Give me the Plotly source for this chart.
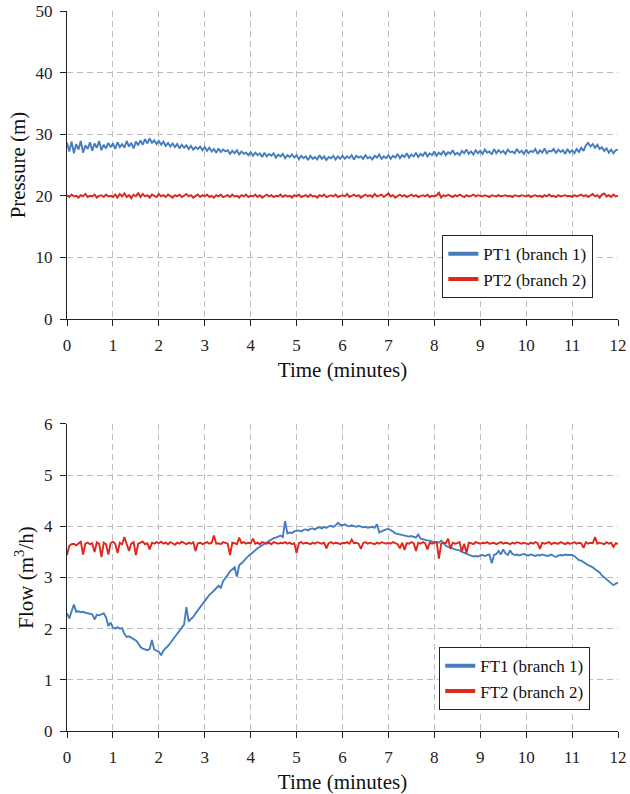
import numpy as np
import plotly.graph_objects as go
from plotly.subplots import make_subplots

# time grid (minutes), 0.05 min sampling
time_min = [round(i * 0.05, 2) for i in range(241)]

pt1 = [
    28.6, 27.2, 28.8, 26.9, 28.4, 27.5, 28.9, 27.0, 28.2, 27.6, 28.7, 27.3, 28.5, 27.8, 28.9, 27.4, 28.3, 27.7, 28.6, 27.9,
    28.5, 27.6, 28.7, 27.9, 28.4, 27.8, 28.9, 28.0, 28.6, 27.7, 28.8, 28.2, 29.0, 28.3, 29.2, 28.5, 29.3, 28.6, 29.0, 28.4,
    28.9, 28.3, 28.8, 28.1, 28.6, 28.0, 28.5, 27.9, 28.4, 27.7, 28.3, 27.8, 28.2, 27.6, 28.1, 27.5, 27.9, 27.6, 28.0, 27.4,
    27.9, 27.3, 27.8, 27.2, 27.6, 27.0, 27.7, 27.1, 27.5, 27.2, 27.4, 26.8, 27.3, 26.9, 27.4, 26.7, 27.2, 26.8, 27.0, 26.6,
    27.1, 26.5, 27.0, 26.6, 26.9, 26.3, 27.0, 26.4, 26.8, 26.5, 26.9, 26.2, 26.7, 26.4, 26.8, 26.1, 26.6, 26.3, 26.7, 26.2,
    26.6, 25.9, 26.5, 26.1, 26.4, 25.8, 26.5, 26.0, 26.3, 25.9, 26.6, 26.0, 26.4, 25.8, 26.3, 26.1, 26.5, 25.9, 26.4, 26.0,
    26.5, 26.0, 26.4, 26.1, 26.6, 25.9, 26.5, 26.2, 26.4, 26.0, 26.6, 26.1, 26.3, 25.9, 26.5, 26.2, 26.7, 26.0, 26.4, 26.1,
    26.6, 26.0, 26.5, 26.2, 26.8, 26.1, 26.6, 26.3, 26.9, 26.2, 26.7, 26.4, 27.0, 26.3, 26.8, 26.5, 27.1, 26.4, 26.9, 26.6,
    27.2, 26.5, 27.0, 26.7, 27.3, 26.6, 27.1, 26.8, 27.4, 26.7, 27.0, 26.6, 27.3, 26.9, 27.5, 26.8, 27.2, 26.7, 27.4, 26.9,
    27.3, 26.8, 27.5, 27.0, 27.2, 26.7, 27.6, 26.9, 27.4, 27.0, 27.3, 26.8, 27.5, 27.1, 27.2, 26.9, 27.6, 27.0, 27.3, 26.8,
    27.5, 26.9, 27.3, 27.1, 27.6, 26.8, 27.4, 27.0, 27.7, 26.9, 27.3, 27.2, 27.6, 26.9, 27.5, 27.1, 27.4, 26.8, 27.6, 27.0,
    27.4, 26.9, 27.6, 27.1, 27.8, 27.3, 28.2, 28.6, 28.0, 28.4, 27.8, 28.3, 27.6, 27.9, 27.3, 27.7, 27.0, 27.5, 26.9, 27.4,
    27.5,
]

pt2 = [
    20.1, 19.8, 20.2, 19.9, 20.0, 19.7, 20.1, 19.9, 20.3, 19.8, 20.0, 19.9, 20.2, 19.7, 20.0, 20.1, 19.8, 20.2, 19.9, 20.0,
    19.8, 20.2, 19.7, 20.3, 19.9, 20.4, 19.8, 20.1, 19.6, 20.2, 19.9, 20.5, 19.8, 20.3, 19.9, 20.1, 19.7, 20.2, 20.0, 19.8,
    20.3, 19.9, 20.1, 19.8, 20.2, 20.0, 19.7, 20.1, 19.9, 20.2, 19.8, 20.0, 20.3, 19.9, 20.1, 19.7, 20.0, 20.2, 19.8, 20.1,
    19.9, 20.2, 19.8, 20.0, 19.7, 20.1, 19.9, 20.2, 19.8, 20.0, 20.1, 19.8, 20.2, 19.9, 20.0, 19.7, 20.1, 19.9, 20.2, 19.8,
    20.0, 19.9, 20.2, 19.8, 20.1, 19.7, 20.0, 20.2, 19.9, 20.1, 19.8, 20.0, 19.9, 20.2, 19.8, 20.1, 19.9, 20.0, 19.7, 20.1,
    19.9, 20.2, 19.8, 20.0, 20.1, 19.8, 20.2, 19.9, 20.0, 19.7, 20.1, 19.9, 20.2, 19.8, 20.0, 20.1, 19.9, 20.2, 19.8, 20.0,
    20.1, 19.9, 20.3, 19.8, 20.0, 20.2, 19.9, 20.1, 19.7, 20.0, 20.2, 19.9, 20.1, 19.8, 20.3, 19.9, 20.0, 20.2, 19.8, 20.1,
    20.4, 19.9, 20.1, 19.7, 20.0, 20.2, 19.9, 20.1, 19.8, 20.0, 20.2, 19.9, 20.1, 19.8, 20.0, 20.1, 19.9, 20.2, 19.8, 20.0,
    19.9, 20.1, 20.5, 19.7, 20.1, 19.9, 20.2, 20.0, 19.8, 20.1, 19.9, 20.2, 20.0, 19.8, 20.1, 19.9, 20.0, 20.2, 19.9, 20.1,
    20.0, 19.9, 20.1, 20.0, 19.8, 20.1, 20.0, 19.9, 20.1, 19.9, 20.0, 20.1, 19.9, 20.0, 19.8, 20.1, 20.0, 19.9, 20.1, 20.0,
    19.9, 20.1, 19.8, 20.0, 20.1, 19.9, 20.0, 19.8, 20.1, 19.9, 20.2, 19.9, 20.0, 19.8, 20.1, 19.9, 20.0, 20.1, 19.9, 20.0,
    19.8, 20.1, 19.9, 20.0, 20.2, 19.9, 20.1, 19.8, 20.0, 20.3, 19.9, 20.1, 19.7, 20.2, 20.4, 19.9, 20.1, 19.8, 20.2, 19.9,
    20.0,
]

ft1 = [
    2.30, 2.20, 2.34, 2.47, 2.33, 2.34, 2.32, 2.33, 2.31, 2.30, 2.30, 2.28, 2.18, 2.27, 2.26, 2.28, 2.30, 2.22, 2.05, 2.12,
    2.02, 2.00, 2.03, 2.00, 2.01, 1.90, 1.84, 1.85, 1.82, 1.79, 1.77, 1.72, 1.64, 1.61, 1.59, 1.58, 1.60, 1.78, 1.59, 1.57,
    1.55, 1.48, 1.57, 1.62, 1.66, 1.72, 1.78, 1.85, 1.91, 1.97, 2.03, 2.08, 2.42, 2.14, 2.19, 2.23, 2.30, 2.36, 2.42, 2.50,
    2.56, 2.61, 2.66, 2.70, 2.74, 2.79, 2.84, 2.80, 2.93, 2.98, 3.05, 3.12, 3.16, 3.20, 3.02, 3.24, 3.28, 3.32, 3.38, 3.42,
    3.45, 3.50, 3.54, 3.57, 3.60, 3.63, 3.66, 3.68, 3.72, 3.74, 3.77, 3.78, 3.80, 3.82, 3.79, 4.10, 3.86, 3.88, 3.87, 3.90,
    3.91, 3.92, 3.90, 3.93, 3.94, 3.92, 3.95, 3.96, 3.94, 3.97, 3.98, 3.96, 3.99, 3.97, 4.00, 4.01, 3.99, 4.02, 4.07, 4.03,
    4.02, 4.04, 4.01, 4.00, 4.02, 4.00, 3.99, 4.01, 4.00, 3.98, 3.99, 3.97, 3.98, 3.99, 3.97, 4.04, 3.88, 3.90, 3.93, 3.94,
    3.95, 3.93, 3.90, 3.86, 3.85, 3.84, 3.83, 3.82, 3.82, 3.80, 3.81, 3.79, 3.78, 3.84, 3.76, 3.75, 3.73, 3.72, 3.72, 3.70,
    3.70, 3.69, 3.68, 3.72, 3.66, 3.62, 3.60, 3.59, 3.57, 3.55, 3.54, 3.53, 3.50, 3.48, 3.46, 3.44, 3.42, 3.41, 3.42, 3.41,
    3.43, 3.44, 3.42, 3.44, 3.45, 3.28, 3.44, 3.46, 3.52, 3.45, 3.55, 3.47, 3.44, 3.53, 3.46, 3.44, 3.45, 3.43, 3.44, 3.46,
    3.44, 3.43, 3.45, 3.44, 3.42, 3.44, 3.43, 3.45, 3.44, 3.42, 3.43, 3.45, 3.42, 3.40, 3.43, 3.44, 3.43, 3.45, 3.44, 3.44,
    3.44, 3.42, 3.38, 3.34, 3.33, 3.30, 3.26, 3.24, 3.22, 3.20, 3.16, 3.13, 3.10, 3.04, 3.00, 2.97, 2.93, 2.88, 2.85, 2.88,
    2.90,
]

ft2 = [
    3.44, 3.62, 3.65, 3.66, 3.63, 3.67, 3.70, 3.45, 3.66, 3.68, 3.65, 3.67, 3.50, 3.69, 3.66, 3.40, 3.68, 3.65, 3.45, 3.67,
    3.70, 3.66, 3.48, 3.68, 3.65, 3.79, 3.67, 3.52, 3.66, 3.69, 3.44, 3.66, 3.68, 3.70, 3.65, 3.67, 3.55, 3.68, 3.66, 3.69,
    3.67, 3.70, 3.66, 3.68, 3.65, 3.69, 3.67, 3.64, 3.68, 3.66, 3.70, 3.67, 3.65, 3.68, 3.66, 3.69, 3.52, 3.67, 3.68, 3.65,
    3.67, 3.69, 3.66, 3.68, 3.82, 3.66, 3.67, 3.65, 3.69, 3.67, 3.66, 3.44, 3.68, 3.67, 3.65, 3.78, 3.67, 3.69, 3.66, 3.68,
    3.67, 3.76, 3.66, 3.68, 3.65, 3.69, 3.67, 3.66, 3.68, 3.65, 3.69, 3.67, 3.66, 3.68, 3.67, 3.69, 3.66, 3.68, 3.65, 3.67,
    3.48, 3.67, 3.69, 3.66, 3.68, 3.67, 3.65, 3.68, 3.66, 3.69, 3.67, 3.66, 3.68, 3.57, 3.67, 3.69, 3.66, 3.68, 3.67, 3.65,
    3.68, 3.67, 3.69, 3.66, 3.74, 3.67, 3.68, 3.66, 3.56, 3.67, 3.69, 3.66, 3.68, 3.67, 3.65, 3.68, 3.66, 3.69, 3.67, 3.66,
    3.68, 3.66, 3.69, 3.67, 3.65, 3.57, 3.68, 3.54, 3.67, 3.66, 3.69, 3.67, 3.52, 3.68, 3.66, 3.69, 3.67, 3.55, 3.68, 3.66,
    3.67, 3.69, 3.37, 3.66, 3.68, 3.67, 3.76, 3.56, 3.68, 3.66, 3.67, 3.69, 3.51, 3.66, 3.48, 3.68, 3.67, 3.65, 3.69, 3.67,
    3.66, 3.68, 3.67, 3.69, 3.66, 3.67, 3.68, 3.65, 3.67, 3.69, 3.66, 3.68, 3.67, 3.65, 3.68, 3.66, 3.69, 3.67, 3.66, 3.68,
    3.67, 3.65, 3.68, 3.66, 3.69, 3.67, 3.56, 3.68, 3.66, 3.67, 3.69, 3.65, 3.68, 3.67, 3.66, 3.69, 3.67, 3.65, 3.68, 3.66,
    3.67, 3.69, 3.66, 3.68, 3.67, 3.58, 3.69, 3.66, 3.68, 3.67, 3.79, 3.66, 3.68, 3.67, 3.65, 3.69, 3.66, 3.68, 3.60, 3.67,
    3.66,
]

x_ticks = list(range(0, 13))
p_ticks = [0, 10, 20, 30, 40, 50]
f_ticks = [0, 1, 2, 3, 4, 5, 6]

BLUE = "#467dbf"
RED = "#dc281e"
FONT = "Liberation Serif"

fig = make_subplots(rows=2, cols=1, vertical_spacing=0.0)

def add_series(x, y, color, name, row, legend):
    fig.add_trace(go.Scatter(x=x, y=y, mode="lines", line=dict(color=color, width=1.9),
                             showlegend=False, hoverinfo="skip"), row=row, col=1)
    fig.add_trace(go.Scatter(x=[None], y=[None], mode="lines", name=name,
                             line=dict(color=color, width=4), legend=legend), row=row, col=1)

add_series(time_min, pt1, BLUE, "PT1 (branch 1)", 1, "legend")
add_series(time_min, pt2, RED, "PT2 (branch 2)", 1, "legend")
add_series(time_min, ft1, BLUE, "FT1 (branch 1)", 2, "legend2")
add_series(time_min, ft2, RED, "FT2 (branch 2)", 2, "legend2")

axis_common = dict(
    showline=True, linecolor="#222222", linewidth=1.3,
    ticks="outside", ticklen=6, tickwidth=1.3, tickcolor="#222222",
    showgrid=True, gridcolor="#bdbdbd", gridwidth=1.4, griddash="6px,4px",
    zeroline=False, tickfont=dict(family=FONT, size=17, color="#222222"),
    ticklabelstandoff=4, automargin=False, ticklabeloverflow="allow",
)

fig.update_xaxes(**axis_common, range=[0, 12], tickvals=x_ticks,
                 title=dict(text="Time (minutes)", font=dict(family=FONT, size=21, color="#111111"), standoff=8))
fig.update_yaxes(**axis_common)
fig.update_yaxes(range=[0, 50], tickvals=p_ticks, row=1, col=1,
                 title=dict(text="Pressure (m)", font=dict(family=FONT, size=21, color="#111111"), standoff=4))
fig.update_yaxes(range=[0, 6], tickvals=f_ticks, row=2, col=1,
                 title=dict(text="Flow (m<sup>3</sup>/h)", font=dict(family=FONT, size=21, color="#111111"), standoff=4))

fig.update_layout(
    width=630, height=794,
    margin=dict(l=67, r=12, t=11, b=63, autoexpand=False),
    paper_bgcolor="white", plot_bgcolor="white",
    xaxis=dict(domain=[0, 1]), yaxis=dict(domain=[0.5722, 1.0]),
    xaxis2=dict(domain=[0, 1]), yaxis2=dict(domain=[0.0, 0.4264]),
    legend=dict(x=0.6806, y=0.6889, xanchor="left", yanchor="top",
                bgcolor="white", bordercolor="#222222", borderwidth=1.3,
                font=dict(family=FONT, size=17, color="#111111")),
    legend2=dict(x=0.675, y=0.1167, xanchor="left", yanchor="top",
                 bgcolor="white", bordercolor="#222222", borderwidth=1.3,
                 font=dict(family=FONT, size=17, color="#111111")),
    font=dict(family=FONT),
)

# remove the browser's default body margin so the 630x794 figure fills the window
fig.write_html("out.html", config={"displayModeBar": False},
               post_script="document.body.style.margin='0';document.body.style.overflow='hidden';")
